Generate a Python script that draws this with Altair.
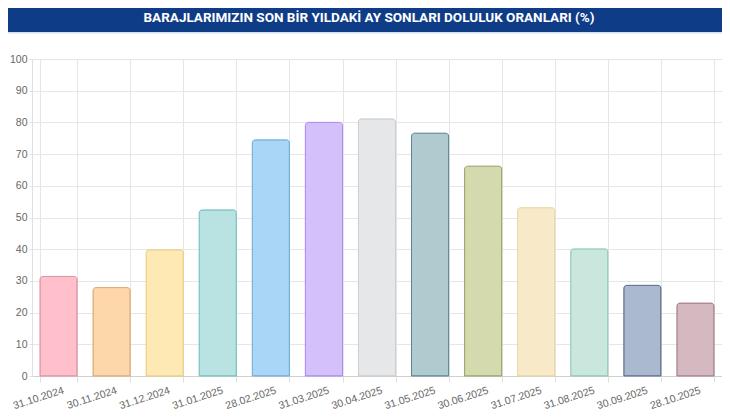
import altair as alt
import pandas as pd

TITLE = "BARAJLARIMIZIN SON BİR YILDAKİ AY SONLARI DOLULUK ORANLARI (%)"
dates = ["31.10.2024", "30.11.2024", "31.12.2024", "31.01.2025", "28.02.2025",
         "31.03.2025", "30.04.2025", "31.05.2025", "30.06.2025", "31.07.2025",
         "31.08.2025", "30.09.2025", "28.10.2025"]
values = [31.4, 27.9, 39.8, 52.4, 74.5, 80.0, 81.1, 76.6, 66.2, 53.1, 40.1, 28.6, 23.0]
fills = ["#ffc0cc", "#fdd6aa", "#fee8b3", "#b9e3e3", "#a9d5f6", "#d4c1fb", "#e6e7e9",
         "#afcbd0", "#d5d9ae", "#f8eac8", "#c9e7dd", "#abb9ce", "#d4b9c0"]
strokes = ["#dc94a4", "#dcab76", "#eccf86", "#72c2be", "#6fadd9", "#a98af0", "#cbcdd1",
           "#5b8790", "#9aa468", "#e8d7a5", "#8fc9b6", "#5a6f8d", "#a7808b"]
y_ticks = list(range(0, 101, 10))

W, H = 690, 317
PAD_L, PAD_T, PAD_B = 24, 51, 36

df = pd.DataFrame({"date": dates, "value": values})
tdf = pd.DataFrame({"t": [TITLE]})

bars = alt.Chart(df).mark_bar(
    strokeWidth=1, cornerRadiusTopLeft=3, cornerRadiusTopRight=3
).encode(
    x=alt.X("date:N", sort=dates, title=None,
            scale=alt.Scale(paddingInner=0.3, paddingOuter=0.15),
            axis=alt.Axis(tickBand="extent", grid=True, gridColor="#e6e6e6",
                          ticks=True, tickSize=6, tickColor="#e0e0e0",
                          domainColor="#d0d0d0", labelAngle=342, labelAlign="right",
                          labelBaseline="top", labelPadding=3, labelOffset=3,
                          labelColor="#666666", labelFont="Liberation Sans",
                          labelFontSize=10.5, labelOverlap=False)),
    y=alt.Y("value:Q", title=None,
            scale=alt.Scale(domain=[0, 100], nice=False),
            axis=alt.Axis(values=y_ticks, grid=True, gridColor="#e6e6e6",
                          ticks=True, tickSize=3, tickColor="#e0e0e0",
                          domainColor="#e0e0e0", labelPadding=2,
                          labelColor="#666666", labelFont="Liberation Sans",
                          labelFontSize=10.5)),
    fill=alt.Fill("date:N", sort=dates, legend=None,
                  scale=alt.Scale(domain=dates, range=fills)),
    stroke=alt.Stroke("date:N", sort=dates, legend=None,
                      scale=alt.Scale(domain=dates, range=strokes)),
)

banner = alt.Chart(tdf).mark_rect(color="#0f3c87").encode(
    x=alt.value(-PAD_L), x2=alt.value(W),
    y=alt.value(-PAD_T), y2=alt.value(-27),
)
stripe = alt.Chart(tdf).mark_rect(color="#cfe3f5").encode(
    x=alt.value(-PAD_L), x2=alt.value(W),
    y=alt.value(-27), y2=alt.value(-25.5),
)
title = alt.Chart(tdf).mark_text(
    color="white", font="Roboto", fontWeight="bold", fontSize=13.5,
    align="center", baseline="middle"
).encode(
    text="t:N", x=alt.value(337), y=alt.value(-41),
)

chart = alt.layer(banner, stripe, bars, title).properties(
    width=W, height=H,
    autosize=alt.AutoSizeParams(type="none"),
    padding={"left": PAD_L, "top": PAD_T, "right": 0, "bottom": PAD_B},
    background="white",
).configure_view(stroke=None)

chart.save("out.html", embed_options={"renderer": "svg", "actions": False})
